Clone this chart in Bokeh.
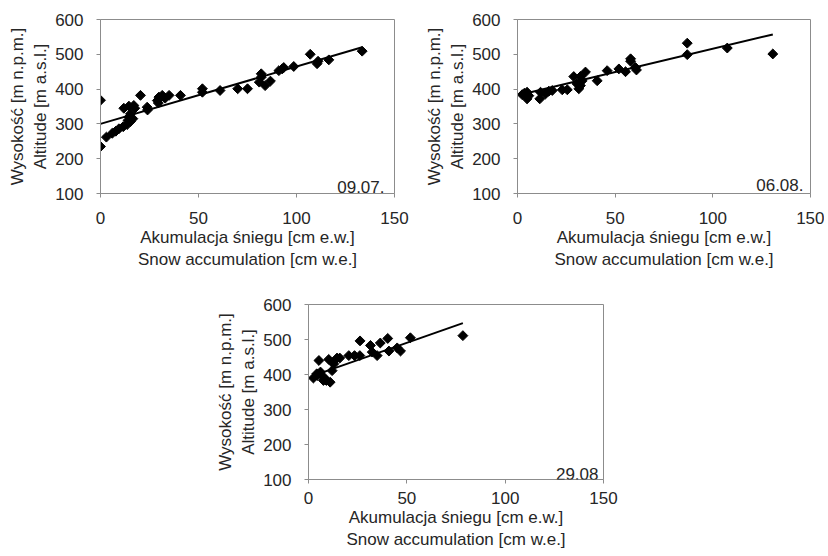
import math
from bokeh.plotting import figure
from bokeh.models import Range1d, FixedTicker, Label, Spacer
from bokeh.layouts import column, row
from bokeh.embed import file_html
from bokeh.resources import INLINE

# ---- data ----
p1_x = [0, 0, 3, 6, 7.8, 9.4, 11.6, 13.6, 15.3, 11.9, 14.5, 17, 17.5, 15.3, 14.5, 16.5, 14,
        20.4, 23.8, 24, 29, 29.8, 31.5, 33, 35, 29.5, 40.8, 52, 52, 61, 70, 75, 82, 82, 81,
        84, 86.7, 91, 92.7, 93.5, 98.6, 107, 110.5, 111, 116.5, 133.5]
p1_y = [368, 235, 262, 273, 279, 286, 292, 298, 307, 345, 351, 353, 345, 329, 320, 315, 310,
        382, 348, 340, 367, 377, 382, 374, 382, 360, 382, 401, 391, 396, 401, 401, 444, 434, 420,
        410, 423, 453, 458, 462, 465, 500, 473, 480, 484, 509]

p2_x = [2.4, 4.9, 4.9, 5.8, 3.5, 11.4, 11.8, 14.3, 16, 17.8, 22.9, 25.5, 28.8, 30.5, 31.4,
        32.2, 33.1, 32.2, 34.8, 40.8, 45.9, 51.9, 55.3, 57.9, 57.9, 60.4, 60.9, 86.9, 86.9,
        107.4, 130.7]
p2_y = [384, 391, 372, 381, 388, 372, 391, 386, 394, 396, 398, 398, 436, 415, 401,
        436, 424, 410, 449, 424, 453, 458, 450, 487, 480, 462, 455, 532, 499,
        518, 501]

p3_x = [2.5, 4.2, 5.3, 4.4, 6.1, 7.6, 7.8, 9.1, 10.3, 11, 12, 12.8, 14.5, 15.9, 20.5, 23.4,
        26.2, 26.1, 31.5, 32.4, 34.9, 36.5, 40.3, 40.9, 45.1, 46.8, 51.8, 78.5]
p3_y = [390, 402, 440, 397, 407, 383, 392, 383, 443, 378, 411, 430, 447, 447, 454, 454,
        496, 454, 483, 464, 454, 490, 503, 467, 476, 467, 505, 511]

# linear trend (intercept, slope)
trend1 = [300, 1.65]
trend2 = [382, 1.34]
trend3 = [392, 1.97]

dates = ["09.07.", "06.08.", "29.08"]
x_ticks = [0, 50, 100, 150]
y_ticks = [100, 200, 300, 400, 500, 600]
x_label = "Akumulacja śniegu [cm e.w.]\nSnow accumulation [cm w.e.]"
y_label = "Wysokość [m n.p.m.]\nAltitude [m a.s.l.]"

FONT = "Liberation Sans"
TXT = "#262626"
GRID = "#8c8c8c"


def panel(xs, ys, trend, date, fw, fh, left, right, top, bottom, date_dx, date_dy,
          xl_standoff, xa_standoff):
    p = figure(output_backend="svg", toolbar_location=None,
               frame_width=fw, frame_height=fh,
               min_border_left=left, min_border_right=right,
               min_border_top=top, min_border_bottom=bottom,
               x_range=Range1d(0, 150), y_range=Range1d(100, 600))
    p.background_fill_color = "white"
    p.border_fill_color = "white"
    p.outline_line_color = GRID
    p.outline_line_width = 1
    p.grid.visible = False
    for ax in (p.xaxis[0], p.yaxis[0]):
        ax.axis_line_color = GRID
        ax.major_tick_line_color = GRID
        ax.minor_tick_line_color = None
        ax.major_tick_in = 0
        ax.major_tick_out = 4
        ax.major_label_text_font = FONT
        ax.major_label_text_font_size = "17px"
        ax.major_label_text_color = TXT
        ax.axis_label_text_font = FONT
        ax.axis_label_text_font_size = "17px"
        ax.axis_label_text_font_style = "normal"
        ax.axis_label_text_color = TXT
    p.xaxis[0].ticker = FixedTicker(ticks=x_ticks)
    p.yaxis[0].ticker = FixedTicker(ticks=y_ticks)
    p.xaxis[0].major_label_standoff = xl_standoff
    p.yaxis[0].major_label_standoff = 13
    p.xaxis[0].axis_label = x_label
    p.yaxis[0].axis_label = y_label
    p.xaxis[0].axis_label_standoff = xa_standoff
    p.yaxis[0].axis_label_standoff = 2

    x0, x1 = min(xs), max(xs)
    p.line([x0, x1], [trend[0] + trend[1] * x0, trend[0] + trend[1] * x1],
           line_color="black", line_width=2)
    p.scatter(xs, ys, marker="square", size=7, angle=math.pi / 4,
              fill_color="black", line_color="black")

    p.add_layout(Label(x=150, y=100, x_offset=date_dx, y_offset=date_dy, text=date,
                       text_align="right", text_baseline="bottom",
                       text_font=FONT, text_font_size="17px", text_color=TXT))
    return p


f1 = panel(p1_x, p1_y, trend1, dates[0], 294, 174, 100, 23, 19, 80, -10, 1, 14, 1)
f2 = panel(p2_x, p2_y, trend2, dates[1], 293, 174, 100, 14, 19, 80, -7, 3, 14, 1)
f3 = panel(p3_x, p3_y, trend3, dates[2], 295, 175, 100, 30, 31, 76, -5, 0, 8, 1)

layout = column(row(f1, f2), row(Spacer(width=208, height=10), f3))

open("out.html", "w").write(file_html(layout, INLINE))
